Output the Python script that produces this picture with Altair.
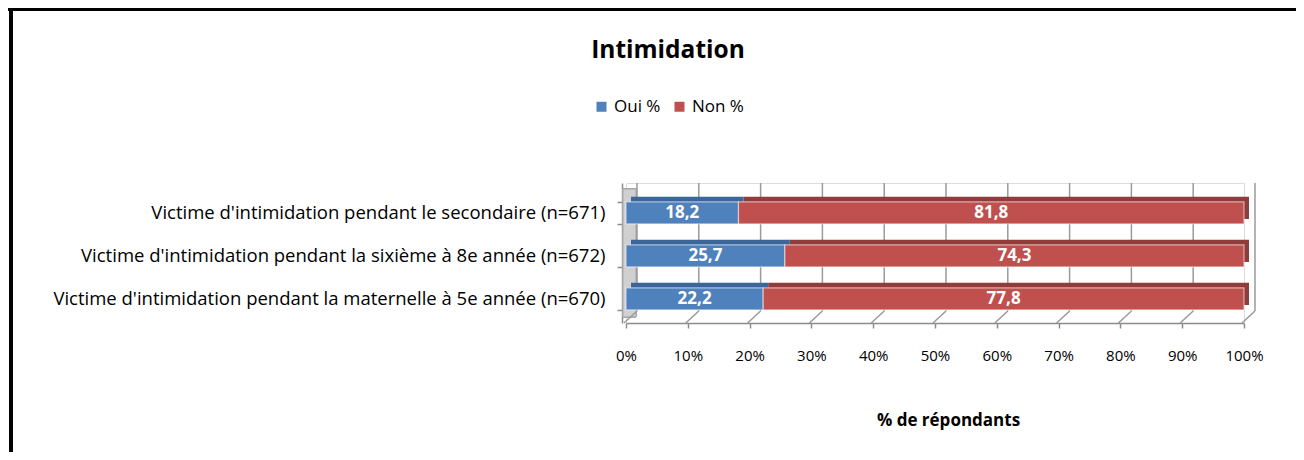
import altair as alt
import pandas as pd

# ---------------- data ----------------
categories = [
    "Victime d'intimidation  pendant le secondaire (n=671)",
    "Victime d'intimidation  pendant la sixième à 8e année (n=672)",
    "Victime d'intimidation  pendant la maternelle à 5e année (n=670)",
]
series = ["Oui %", "Non %"]
oui_values = [18.2, 25.7, 22.2]
non_values = [81.8, 74.3, 77.8]
tick_values = [0, 10, 20, 30, 40, 50, 60, 70, 80, 90, 100]

front_colors = ["#4F81BD", "#C0504D"]
top_colors = ["#3B6699", "#8F3D3B"]
FONT = "Open Sans"

rows = []
for cat, o, n in zip(categories, oui_values, non_values):
    start = 0.0
    for s, v, dc in zip(series, [o, n], top_colors):
        rows.append({
            "cat": cat, "series": s, "value": v,
            "start": start, "end": start + v, "mid": start + v / 2,
            "label": f"{v:.1f}".replace(".", ","), "dark": dc,
        })
        start += v
df = pd.DataFrame(rows)
ticks_df = pd.DataFrame({"t": tick_values})

W, H = 618, 140
x_scale = alt.Scale(domain=[0, 100], nice=False, zero=False)
x_axis = alt.Axis(
    values=tick_values, labelExpr="datum.value + '%'", title="% de répondants",
    grid=False, domainColor="#8c8c8c", domainWidth=1.5, tickColor="#8c8c8c",
    tickSize=5, tickWidth=1.5, labelPadding=20, labelFontSize=15, labelFont=FONT,
    labelFlush=False, labelOverlap=False,
    labelColor="#000000", titleFont=FONT, titleFontSize=17, titleFontWeight="bold",
    titleColor="#000000", titleX=322, titleY=97, titleBaseline="middle",
    titleAnchor="middle", titleAlign="center",
)
y_scale = alt.Scale(domain=categories, paddingInner=0.488, paddingOuter=0.372, align=0.59)
y_axis = alt.Axis(
    title=None, domainColor="#8c8c8c", domainWidth=1.5, tickColor="#8c8c8c",
    tickWidth=1.5, tickSize=5, tickBand="extent", offset=4, labelPadding=12,
    labelFontSize=18.5, labelFont=FONT, labelColor="#000000", labelLimit=700,
)

# frame lines (top and left)
frame_top = alt.Chart(ticks_df).mark_rule(color="#000000", strokeWidth=3).encode(
    x=alt.value(-620), x2=alt.value(700), y=alt.value(-174)
)
frame_left = alt.Chart(ticks_df).mark_rule(color="#000000", strokeWidth=3).encode(
    x=alt.value(-615), y=alt.value(-176), y2=alt.value(270)
)

# left side wall
wall = alt.Chart(ticks_df).mark_rect(color="#d0d0d0", stroke="#a8a8a8", strokeWidth=1).encode(
    x=alt.value(-3), x2=alt.value(10), y=alt.value(6), y2=alt.value(134)
)

# back wall gridlines
grid = alt.Chart(ticks_df).mark_rule(color="#9a9a9a", strokeWidth=1.5, xOffset=11).encode(
    x=alt.X("t:Q", scale=x_scale, axis=x_axis), y=alt.value(0), y2=alt.value(128)
)
# floor diagonals
floor = alt.Chart(ticks_df).mark_rule(color="#9a9a9a", strokeWidth=1.5, xOffset=-2, x2Offset=11).encode(
    x=alt.X("t:Q", scale=x_scale, axis=x_axis), x2="t:Q", y=alt.value(140), y2=alt.value(128)
)

# bar top/right faces (shifted darker copy)
bars_back = alt.Chart(df).mark_bar(xOffset=5, x2Offset=5, yOffset=-5).encode(
    x=alt.X("start:Q", scale=x_scale, axis=x_axis), x2="end:Q",
    y=alt.Y("cat:N", scale=y_scale, axis=y_axis, sort=categories),
    color=alt.Color("dark:N", scale=None),
)
# bar front faces
bars = alt.Chart(df).mark_bar(stroke="#ffffff", strokeOpacity=0.55, strokeWidth=1.2).encode(
    x=alt.X("start:Q", scale=x_scale, axis=x_axis), x2="end:Q",
    y=alt.Y("cat:N", scale=y_scale, axis=y_axis, sort=categories),
    color=alt.Color(
        "series:N", scale=alt.Scale(domain=series, range=front_colors),
        legend=alt.Legend(
            title=None, orient="none", legendX=-33, legendY=-85, direction="horizontal",
            symbolType="square", symbolSize=100, symbolStrokeWidth=0, labelFontSize=17,
            labelFont=FONT, labelColor="#000000", columnPadding=10, labelOffset=4,
        ),
    ),
)
labels = alt.Chart(df).mark_text(
    color="#ffffff", fontWeight="bold", fontSize=17, font=FONT, baseline="middle"
).encode(
    x=alt.X("mid:Q", scale=x_scale, axis=x_axis),
    y=alt.Y("cat:N", scale=y_scale, axis=y_axis, sort=categories),
    text="label:N",
)

chart = alt.layer(frame_top, frame_left, wall, grid, floor, bars_back, bars, labels).properties(
    width=W, height=H,
    autosize=alt.AutoSizeParams(type="none"),
    padding={"left": 618, "top": 175, "right": 52, "bottom": 129},
    title=alt.Title("Intimidation", font=FONT, fontSize=24.5, fontWeight="bold",
                    color="#000000", anchor="middle", dx=-267, offset=-58),
).configure_view(stroke=None).configure(background="#ffffff")

chart.save("out.html", embed_options={"renderer": "svg", "actions": False})
